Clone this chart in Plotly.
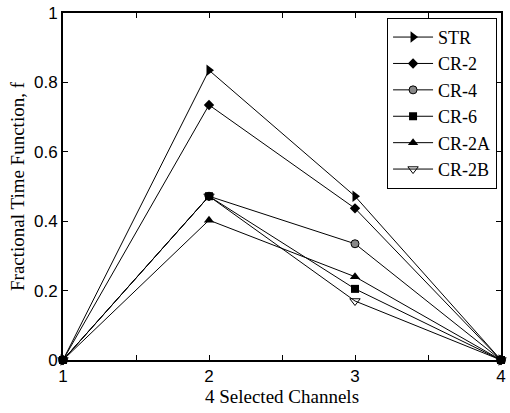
import plotly.graph_objects as go

channels = [1, 2, 3, 4]
series_names = ["STR", "CR-2", "CR-4", "CR-6", "CR-2A", "CR-2B"]
str_vals = [0, 0.835, 0.472, 0]
cr2_vals = [0, 0.735, 0.437, 0]
cr4_vals = [0, 0.472, 0.335, 0]
cr6_vals = [0, 0.472, 0.205, 0]
cr2a_vals = [0, 0.403, 0.240, 0]
cr2b_vals = [0, 0.472, 0.170, 0]
x_tickvals = [1, 2, 3, 4]
y_tickvals = [0, 0.2, 0.4, 0.6, 0.8, 1]
y_ticktext = ["0", "0.2", "0.4", "0.6", "0.8", "1"]

values = [str_vals, cr2_vals, cr4_vals, cr6_vals, cr2a_vals, cr2b_vals]
markers = [
    dict(symbol="triangle-right", color="black", size=10),
    dict(symbol="diamond", color="black", size=8),
    dict(symbol="circle", color="#888888", size=8, line=dict(color="black", width=1)),
    dict(symbol="square", color="black", size=8),
    dict(symbol="triangle-up", color="black", size=9),
    dict(symbol="triangle-down-open", color="black", size=9, line=dict(width=1)),
]

fig = go.Figure()
for name, vals, mk in zip(series_names, values, markers):
    fig.add_trace(go.Scatter(x=channels, y=vals, name=name, mode="lines+markers",
                             line=dict(color="black", width=1), marker=mk, cliponaxis=False))

serif = "Liberation Serif, Times New Roman, serif"
sans = "Liberation Sans, Arial, sans-serif"

fig.update_layout(
    width=510, height=413,
    margin=dict(l=63, r=4, t=12, b=53),
    paper_bgcolor="white", plot_bgcolor="white",
    showlegend=True,
    legend=dict(x=0.991, y=0.986, xanchor="right", yanchor="top",
                bordercolor="black", borderwidth=1, bgcolor="white",
                font=dict(family=serif, size=18, color="black"),
                tracegroupgap=0, itemwidth=40),
    font=dict(family=sans, color="black"),
)
fig.update_xaxes(range=[1, 4], tickvals=[1, 1.5, 2, 2.5, 3, 3.5, 4],
                 ticktext=["1", "", "2", "", "3", "", "4"],
                 ticks="inside", ticklen=5, tickcolor="black", tickwidth=1,
                 showline=True, linecolor="black", linewidth=2, mirror="ticks",
                 showgrid=False, zeroline=False,
                 tickfont=dict(size=17, family=sans),
                 title=dict(text="4 Selected Channels", standoff=2,
                            font=dict(size=19, family=serif)))
fig.update_yaxes(range=[0, 1], tickvals=y_tickvals, ticktext=y_ticktext,
                 ticks="inside", ticklen=5, tickcolor="black", tickwidth=1,
                 showline=True, linecolor="black", linewidth=2, mirror="ticks",
                 showgrid=False, zeroline=False,
                 tickfont=dict(size=17, family=sans),
                 title=dict(text="Fractional Time Function, f", standoff=4,
                            font=dict(size=19, family=serif)))

fig.write_html("out.html")
